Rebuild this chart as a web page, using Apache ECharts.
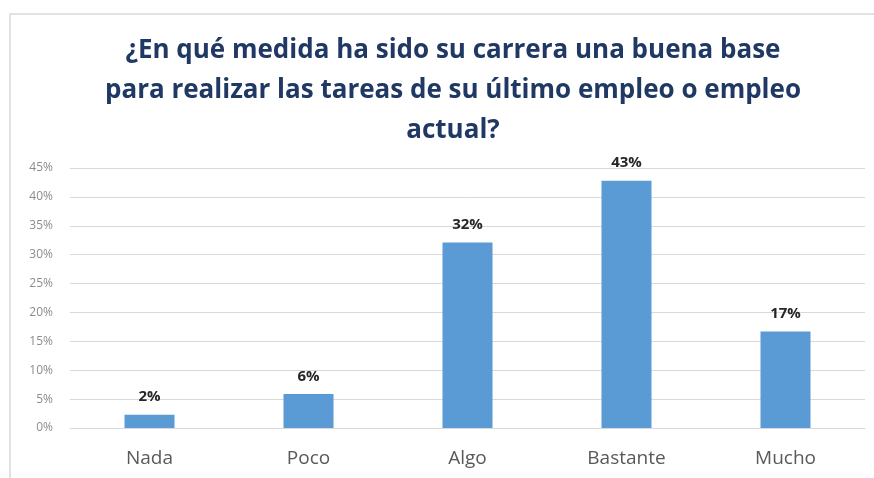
<!DOCTYPE html>
<html><head><meta charset="utf-8">
<script src="https://cdn.jsdelivr.net/npm/echarts@6/dist/echarts.min.js"></script>
<style>html,body{margin:0;padding:0;background:#fff}#c{width:874px;height:478px}</style>
</head><body><div id="c"></div>
<script>
const categories = ['Nada', 'Poco', 'Algo', 'Bastante', 'Mucho'];
const values = [2.3, 5.9, 32.1, 42.8, 16.7];
const titleText = '¿En qué medida ha sido su carrera una buena base\npara realizar las tareas de su último empleo o empleo\nactual?';

const chart = echarts.init(document.getElementById('c'));
chart.setOption({
  animation: false,
  backgroundColor: '#fff',
  graphic: [{
    type: 'polyline', silent: true,
    shape: { points: [[10, 478], [10, 14], [874, 14]] },
    style: { stroke: '#d9d9d9', lineWidth: 1.5, fill: null }
  }],
  title: {
    text: titleText,
    left: 448, top: 26, textAlign: 'center',
    textStyle: { fontFamily: 'Open Sans', fontWeight: 'bold', fontSize: 26, lineHeight: 40, color: '#1f3864' }
  },
  grid: { left: 70, right: 9, top: 168, bottom: 50, containLabel: false },
  xAxis: {
    type: 'category', data: categories,
    axisLine: { lineStyle: { color: '#d9d9d9' } },
    axisTick: { show: false },
    axisLabel: { color: '#595959', fontSize: 19, fontFamily: 'Open Sans', margin: 21 }
  },
  yAxis: {
    type: 'value', min: 0, max: 45, interval: 5,
    axisLine: { show: false }, axisTick: { show: false },
    splitLine: { lineStyle: { color: '#d9d9d9' } },
    axisLabel: { color: '#8c8c8c', fontSize: 12, fontFamily: 'Open Sans', margin: 17, formatter: v => v + '%' }
  },
  series: [{
    type: 'bar', data: values, barWidth: 50,
    itemStyle: { color: '#5b9bd5' },
    label: { show: true, position: 'top', distance: 10, color: '#262626', fontWeight: 'bold', fontSize: 15, fontFamily: 'Open Sans',
      formatter: p => Math.round(p.value) + '%' }
  }]
});
</script></body></html>
